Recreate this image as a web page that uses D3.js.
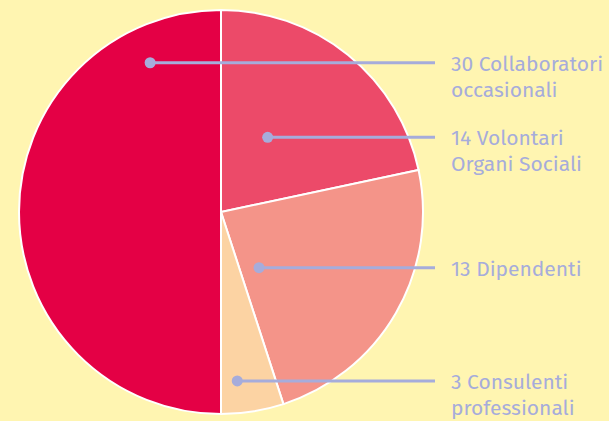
<!DOCTYPE html>
<head>
    <meta charset="utf-8">
    <script src="https://d3js.org/d3.v7.min.js"></script>
    <style>
      body { margin: 0; background: #fff5b1; }
      text {
        font-family: "Fira Sans", "Open Sans", sans-serif;
        fill: #a6acdb;
      }
    </style>
<body>
    <script>
        // slices, clockwise from 12 o'clock
        var labelLine1 = ["14 Volontari", "13 Dipendenti", "3 Consulenti", "30 Collaboratori"]
        var labelLine2 = ["Organi Sociali", "", "professionali", "occasionali"]
        // slice sizes as drawn in the picture (the first two wedges are 13/60 and 14/60 of the circle)
        var shares = [13, 14, 3, 30]
        var colors = ["#ec4a69", "#f49489", "#fcd3a3", "#e40045"]

        // callout dot placement: angle (deg from top) and fraction of the radius
        var dotAngle = [32, 145.7, 174.5, -25.4]
        var dotRadius = [0.436, 0.334, 0.84, 0.818]

        var svg_w = 609, svg_h = 421
        var cx = 221, cy = 212, radius = 202
        var lineEnd = 435, textX = 451

        var svg = d3.select("body").append("svg")
          .attr("width", svg_w)
          .attr("height", svg_h)

        svg.append("rect")
          .attr("width", svg_w)
          .attr("height", svg_h)
          .attr("fill", "#fff5b1")

        var pie = d3.pie().sort(null).value(function(d){return d})
        var arcs = pie(shares)
        var arc = d3.arc().innerRadius(0).outerRadius(radius)

        var g = svg.append("g").attr("transform", "translate(" + cx + "," + cy + ")")

        g.selectAll(".slice")
          .data(arcs)
          .enter()
          .append("path")
          .classed("slice", true)
          .attr("d", arc)
          .attr("fill", function(d, i){return colors[i]})
          .attr("stroke", "#ffffff")
          .attr("stroke-width", 2)

        var rScale = d3.scaleLinear().domain([0, 1]).range([0, radius])
        var dots = dotAngle.map(function(a, i){
          var rad = a * Math.PI / 180
          var r = rScale(dotRadius[i])
          return {x: cx + r * Math.sin(rad), y: cy - r * Math.cos(rad), i: i}
        })

        var callouts = svg.selectAll(".callout")
          .data(dots)
          .enter()
          .append("g")
          .classed("callout", true)

        callouts.append("line")
          .attr("x1", function(d){return d.x})
          .attr("x2", lineEnd)
          .attr("y1", function(d){return d.y})
          .attr("y2", function(d){return d.y})
          .attr("stroke", "#a6acdb")
          .attr("stroke-width", 3)

        callouts.append("circle")
          .attr("cx", function(d){return d.x})
          .attr("cy", function(d){return d.y})
          .attr("r", 5.5)
          .attr("fill", "#a6acdb")

        var labels = callouts.append("text")
          .attr("x", textX)
          .attr("y", function(d){return d.y + 8})
          .attr("font-size", "21px")
        labels.append("tspan")
          .attr("x", textX)
          .text(function(d){return labelLine1[d.i]})
        labels.append("tspan")
          .attr("x", textX)
          .attr("dy", 26)
          .text(function(d){return labelLine2[d.i]})
    </script>
</body>
